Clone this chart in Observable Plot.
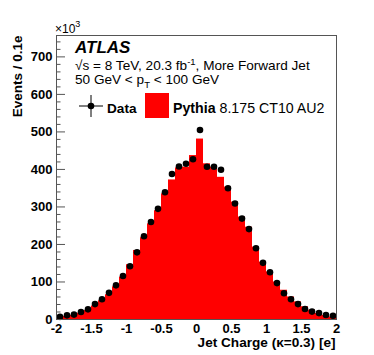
<!DOCTYPE html>
<html><head><meta charset="utf-8">
<script src="https://cdn.jsdelivr.net/npm/d3@7"></script>
<script src="https://cdn.jsdelivr.net/npm/@observablehq/plot@0.6"></script>
<style>
body{margin:0;background:#fff;}
#chart{width:374px;height:355px;}
</style></head><body><div id="chart"></div>
<script>
// Jet charge bins: 40 bins of width 0.1 from -2 to 2 (counts in units of 10^3)
const xMin = -2;
const binWidth = 0.1;
const dataCounts = [7, 11, 13, 20, 27, 41, 54, 71, 91, 116, 142, 179, 222, 260, 295, 339, 388, 408, 415, 427,
                    505, 407, 407, 399, 350, 309, 269, 241, 190, 151, 126, 97, 70, 54, 41, 28, 21, 17, 12, 10];
const mcCounts   = [5, 8, 11, 17, 24, 36, 50, 66, 87, 113, 146, 184, 218, 255, 290, 335, 372, 404, 406, 437,
                    481, 415, 406, 379, 353, 313, 273, 246, 193, 153, 127, 100, 78, 60, 47, 34, 25, 16, 11, 7];
const yMajorTicks = [0, 100, 200, 300, 400, 500, 600, 700];
const yMinorTicks = [20, 40, 60, 80, 120, 140, 160, 180, 220, 240, 260, 280, 320, 340, 360, 380, 420, 440, 460, 480,
                     520, 540, 560, 580, 620, 640, 660, 680, 720, 740];
const xTicks = [-2, -1.5, -1, -0.5, 0, 0.5, 1, 1.5, 2];
const xTickLabels = ["-2", "-1.5", "-1", "-0.5", "0", "0.5", "1", "1.5", "2"];
const yDomain = [0, 757];

const rows = dataCounts.map((d, i) => ({
  x1: xMin + i * binWidth,
  x2: xMin + (i + 1) * binWidth,
  xc: xMin + (i + 0.5) * binWidth,
  data: d,
  mc: mcCounts[i]
}));

const W = 374, H = 355, mL = 56, mR = 38, mT = 35, mB = 36;
const frameW = W - mL - mR;
const font = "'Liberation Sans', Arial, Helvetica, sans-serif";

const plot = Plot.plot({
  width: W, height: H,
  marginLeft: mL, marginRight: mR, marginTop: mT, marginBottom: mB,
  style: {fontFamily: font, fontSize: "13px", background: "#fff", color: "#000"},
  x: {domain: [-2, 2]},
  y: {domain: yDomain},
  marks: [
    Plot.rectY(rows, {x1: "x1", x2: "x2", y: "mc", fill: "#ff0000"}),
    Plot.dot(rows, {x: "xc", y: "data", r: 3.3, fill: "#000", stroke: "none"}),
    Plot.tickY(yMajorTicks, {y: d => d, insetRight: frameW - 9, stroke: "#555", strokeWidth: 1}),
    Plot.tickY(yMinorTicks, {y: d => d, insetRight: frameW - 4.5, stroke: "#555", strokeWidth: 1}),
    Plot.frame({stroke: "#555", strokeWidth: 1}),
    Plot.axisY({ticks: yMajorTicks, tickSize: 0, tickPadding: 4, label: null, fontWeight: "bold", fontSize: 13}),
    Plot.axisX({ticks: xTicks, tickSize: 0, tickPadding: 4, label: null, fontWeight: "bold", fontSize: 13,
                tickFormat: d => xTickLabels[xTicks.indexOf(d)]}),
    Plot.text(["Jet Charge (κ=0.3) [e]"], {frameAnchor: "bottom-right", textAnchor: "end", lineAnchor: "middle",
                dy: 23, dx: -1, fontWeight: "bold", fontSize: 13.6}),
    Plot.text(["Events / 0.1e"], {frameAnchor: "top-left", rotate: -90, textAnchor: "end", lineAnchor: "middle",
                dx: 17 - mL, dy: 0, fontWeight: "bold", fontSize: 13.5})
  ]
});

document.getElementById("chart").appendChild(plot);

// Annotations
const svg = d3.select(plot);
const g = svg.append("g").attr("font-family", font).attr("fill", "#000").attr("text-anchor", "start");

// x10^3 multiplier
const mult = g.append("text").attr("x", 55).attr("y", 33).attr("font-size", 12);
mult.append("tspan").text("×10");
mult.append("tspan").attr("dy", -6).attr("font-size", 9).text("3");

g.append("text").attr("x", 75).attr("y", 53).attr("font-size", 17)
  .attr("font-weight", "bold").attr("font-style", "italic").text("ATLAS");

const l2 = g.append("text").attr("x", 75).attr("y", 70).attr("font-size", 13.6);
l2.append("tspan").text("√s = 8 TeV, 20.3 fb");
l2.append("tspan").attr("dy", -5).attr("font-size", 9.5).text("-1");
l2.append("tspan").attr("dy", 5).text(", More Forward Jet");

const l3 = g.append("text").attr("x", 75).attr("y", 84).attr("font-size", 13.6);
l3.append("tspan").text("50 GeV < p");
l3.append("tspan").attr("dy", 4).attr("font-size", 9.5).text("T");
l3.append("tspan").attr("dy", -4).text(" < 100 GeV");

// Legend: data marker
g.append("line").attr("x1", 79).attr("x2", 103).attr("y1", 106).attr("y2", 106).attr("stroke", "#000");
g.append("line").attr("x1", 91).attr("x2", 91).attr("y1", 95).attr("y2", 117).attr("stroke", "#000");
g.append("circle").attr("cx", 91).attr("cy", 106).attr("r", 3.3).attr("fill", "#000");
g.append("text").attr("x", 107).attr("y", 113).attr("font-size", 13.6).attr("font-weight", "bold").text("Data");
// Legend: MC
g.append("rect").attr("x", 145).attr("y", 93).attr("width", 24).attr("height", 25).attr("fill", "#ff0000");
const lm = g.append("text").attr("x", 173).attr("y", 113).attr("font-size", 14.2);
lm.append("tspan").attr("font-weight", "bold").text("Pythia");
lm.append("tspan").text(" 8.175 CT10 AU2");
</script></body></html>
